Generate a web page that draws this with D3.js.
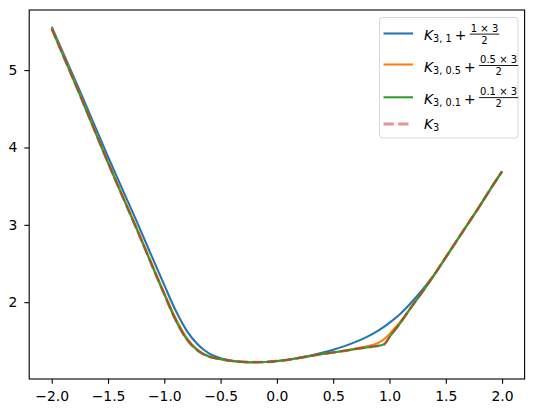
<!DOCTYPE html>
<html>
    <head>
        <meta charset="utf-8" />
        <title>K3 smoothing</title>
        <style>
            body { margin: 0; background: #fff; }
            text { font-family: "DejaVu Sans", sans-serif; }
        </style>
    </head>
    <body>
    <script src="https://cdn.jsdelivr.net/npm/d3@7"></script>
    <script>
        // values
        var xs = [-2, -1.75, -1.5, -1.25, -1.0, -0.9, -0.8, -0.7, -0.6, -0.5, -0.4, -0.3, -0.2, -0.1,
                  0, 0.1, 0.2, 0.3, 0.4, 0.5, 0.6, 0.7, 0.8, 0.9, 0.95, 1.0, 1.1, 1.2, 1.3, 1.4,
                  1.5, 1.6, 1.7, 1.8, 1.9, 2.0];

        var k3_t1 = [5.56, 4.73, 3.88, 3.06, 2.22, 1.895, 1.63, 1.45, 1.335, 1.276, 1.243, 1.229, 1.224, 1.226,
                     1.240, 1.256, 1.281, 1.31, 1.345, 1.385, 1.432, 1.487, 1.552, 1.632, 1.68, 1.735, 1.855, 2.005, 2.175, 2.36,
                     2.58, 2.80, 3.02, 3.24, 3.47, 3.69];
        var k3_t05 = [5.545, 4.69, 3.815, 2.975, 2.12, 1.795, 1.535, 1.378, 1.297, 1.265, 1.240, 1.228, 1.224, 1.226,
                      1.240, 1.255, 1.28, 1.305, 1.33, 1.35, 1.373, 1.40, 1.43, 1.475, 1.52, 1.59, 1.755, 1.95, 2.15, 2.36,
                      2.58, 2.80, 3.02, 3.24, 3.47, 3.69];
        var k3_t01 = [5.535, 4.68, 3.80, 2.96, 2.10, 1.77, 1.52, 1.37, 1.295, 1.264, 1.240, 1.228, 1.224, 1.226,
                      1.240, 1.255, 1.28, 1.305, 1.33, 1.35, 1.372, 1.395, 1.415, 1.437, 1.455, 1.55, 1.74, 1.95, 2.15, 2.36,
                      2.58, 2.80, 3.02, 3.24, 3.47, 3.69];
        var k3 = [5.535, 4.68, 3.80, 2.96, 2.10, 1.77, 1.52, 1.37, 1.295, 1.264, 1.240, 1.228, 1.224, 1.226,
                  1.240, 1.255, 1.28, 1.305, 1.33, 1.35, 1.372, 1.395, 1.415, 1.435, 1.45, 1.55, 1.74, 1.95, 2.15, 2.36,
                  2.58, 2.80, 3.02, 3.24, 3.47, 3.69];

        var xTicks = [-2.0, -1.5, -1.0, -0.5, 0.0, 0.5, 1.0, 1.5, 2.0];
        var yTicks = [2, 3, 4, 5];

        var labels = [
            {sub: '3, 1', num: '1 \u00d7 3', den: '2'},
            {sub: '3, 0.5', num: '0.5 \u00d7 3', den: '2'},
            {sub: '3, 0.1', num: '0.1 \u00d7 3', den: '2'},
            {sub: '3', num: null, den: null}
        ];
        var colors = ['#1f77b4', '#ff7f0e', '#2ca02c', '#d62728'];

        var width = 534,
            height = 413;
        var plotL = 29.2, plotR = 524.6, plotT = 10, plotB = 379;
        var fs = 13.9;

        var svg = d3.select('body').append('svg')
                    .attr('width', width)
                    .attr('height', height);

        var series = [k3_t1, k3_t05, k3_t01, k3];
        var all = d3.merge(series);
        var ext = d3.extent(all);
        var r = ext[1] - ext[0];

        var x = d3.scaleLinear()
            .domain([-2.2, 2.2])
            .range([plotL, plotR]);
        var y = d3.scaleLinear()
            .domain([ext[0] - 0.05 * r, ext[1] + 0.05 * r])
            .range([plotB, plotT]);

        var line = d3.line()
            .x(function(d) { return x(d[0]); })
            .y(function(d) { return y(d[1]); })
            .curve(d3.curveMonotoneX);

        series.forEach(function(s, i) {
            var pts = xs.map(function(v, j) { return [v, s[j]]; });
            var p = svg.append('path')
                .attr('d', line(pts))
                .attr('fill', 'none')
                .attr('stroke', colors[i])
                .attr('stroke-width', i == 3 ? 2.78 : 2.08)
                .attr('stroke-linejoin', 'round');
            if (i == 3) {
                p.attr('stroke-opacity', 0.5)
                 .attr('stroke-dasharray', '10.3,4.4');
            }
        });

        // axes
        var xAxis = svg.append('g')
            .attr('transform', 'translate(0,' + plotB + ')')
            .call(d3.axisBottom(x).tickValues(xTicks).tickFormat(d3.format('.1f'))
                  .tickSize(4.86).tickPadding(7).tickSizeOuter(0));
        var yAxis = svg.append('g')
            .attr('transform', 'translate(' + plotL + ',0)')
            .call(d3.axisLeft(y).tickValues(yTicks).tickFormat(d3.format('d'))
                  .tickSize(4.86).tickPadding(7).tickSizeOuter(0));
        [xAxis, yAxis].forEach(function(a) {
            a.select('.domain').remove();
            a.selectAll('line').attr('stroke', '#000').attr('stroke-width', 1.1);
            a.selectAll('text').attr('font-family', 'DejaVu Sans').attr('font-size', fs).attr('fill', '#000');
        });

        svg.append('rect')
            .attr('x', plotL).attr('y', plotT)
            .attr('width', plotR - plotL).attr('height', plotB - plotT)
            .attr('fill', 'none')
            .attr('stroke', '#000')
            .attr('stroke-width', 1.1);

        // legend
        var lg = svg.append('g');
        lg.append('rect')
            .attr('x', 379.5).attr('y', 17.5)
            .attr('width', 138.5).attr('height', 120.5)
            .attr('rx', 3)
            .attr('fill', '#fff').attr('fill-opacity', 0.8)
            .attr('stroke', '#d6d6d6').attr('stroke-width', 1);

        var rowY = [33.5, 64.5, 97.3, 124];
        var baseOff = [6.6, 7, 6.3, 5.3];

        labels.forEach(function(l, i) {
            var yy = rowY[i];
            var h = lg.append('line')
                .attr('x1', 383.5).attr('x2', 413)
                .attr('y1', yy).attr('y2', yy)
                .attr('stroke', colors[i])
                .attr('stroke-width', i == 3 ? 2.78 : 2.08);
            if (i == 3) h.attr('stroke-opacity', 0.5).attr('stroke-dasharray', '10.3,4.4');

            var by = yy + baseOff[i];
            var t = lg.append('text')
                .attr('x', 424).attr('y', by)
                .attr('font-size', fs).attr('fill', '#000');
            t.append('tspan').attr('font-style', 'italic').text('K');
            t.append('tspan').attr('font-size', fs * 0.7).attr('dy', 2).text(l.sub);
            if (!l.num) return;
            var tx = 424 + t.node().getComputedTextLength() + 3;
            var plus = lg.append('text')
                .attr('x', tx).attr('y', by)
                .attr('font-size', fs).attr('fill', '#000')
                .text('+');
            var fx = tx + plus.node().getComputedTextLength() + 3.5;
            var num = lg.append('text')
                .attr('y', by - 8.3)
                .attr('font-size', fs * 0.72).attr('fill', '#000')
                .attr('text-anchor', 'middle')
                .text(l.num);
            var nw = num.node().getComputedTextLength();
            var bw = nw + 2;
            num.attr('x', fx + bw / 2);
            lg.append('text')
                .attr('x', fx + bw / 2).attr('y', by + 3.5)
                .attr('font-size', fs * 0.72).attr('fill', '#000')
                .attr('text-anchor', 'middle')
                .text(l.den);
            lg.append('line')
                .attr('x1', fx).attr('x2', fx + bw)
                .attr('y1', by - 6).attr('y2', by - 6)
                .attr('stroke', '#000').attr('stroke-width', 0.9);
        });
    </script>
    </body>
</html>
